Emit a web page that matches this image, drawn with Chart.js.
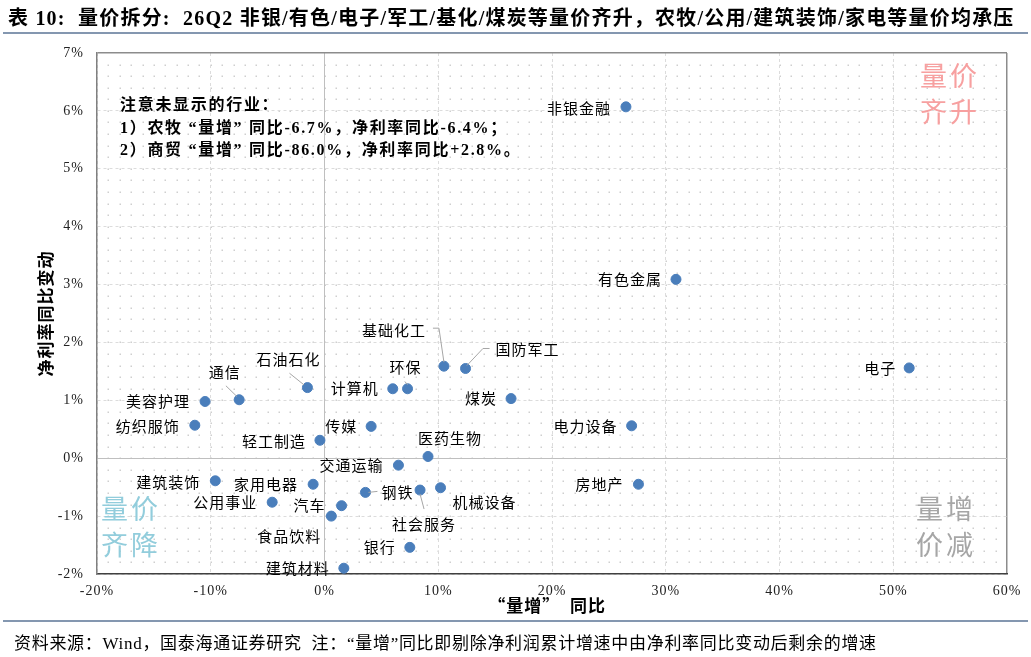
<!DOCTYPE html>
<html>
<head>
<meta charset="utf-8">
<script src="https://cdn.jsdelivr.net/npm/chart.js@4.4.1/dist/chart.umd.min.js"></script>
<style>
  body { margin: 0; background: #fff; }
  #wrap { position: relative; width: 1031px; height: 657px; overflow: hidden; font-family: "Noto Sans CJK SC", sans-serif; }
  #chart { position: absolute; left: 0; top: 0; }
  .title { position: absolute; left: 8px; top: 2px; font-size: 20px; letter-spacing: 1.2px; font-weight: bold; white-space: nowrap; font-family: "Liberation Serif", "Noto Sans CJK SC", serif; }
  .rule { position: absolute; left: 3px; width: 1025px; height: 2px; background: #8497b0; }
  .source { position: absolute; left: 14px; top: 629px; font-size: 17px; letter-spacing: 0.7px; white-space: nowrap; font-family: "Liberation Serif", "Noto Sans CJK SC", serif; }
  .note { position: absolute; left: 120px; top: 94px; font-size: 16px; line-height: 22.5px; letter-spacing: 1.7px; font-weight: bold; white-space: nowrap; font-family: "Liberation Serif", "Noto Sans CJK SC", serif; }
  .corner { position: absolute; font-size: 27px; line-height: 36px; letter-spacing: 3px; white-space: nowrap; }
</style>
</head>
<body>
<div id="wrap">
  <canvas id="chart" width="1031" height="657"></canvas>
  <div class="title">表 10:&nbsp; 量价拆分:&nbsp; 26Q2 非银/有色/电子/军工/基化/煤炭等量价齐升，农牧/公用/建筑装饰/家电等量价均承压</div>
  <div class="rule" style="top:32px"></div>
  <div class="note">注意未显示的行业：<br>1）农牧&nbsp;“量增”&nbsp;同比-6.7%，净利率同比-6.4%；<br>2）商贸&nbsp;“量增”&nbsp;同比-86.0%，净利率同比+2.8%。</div>
  <div class="corner" style="left:920px;top:57px;color:#f7a0a0">量价<br>齐升</div>
  <div class="corner" style="left:101px;top:490px;color:#92cddc">量价<br>齐降</div>
  <div class="corner" style="left:916px;top:490px;color:#a6a6a6">量增<br>价减</div>
  <div class="rule" style="top:620px"></div>
  <div class="source">资料来源：Wind，国泰海通证券研究&nbsp; 注：“量增”同比即剔除净利润累计增速中由净利率同比变动后剩余的增速</div>
</div>
<script>
// 行业名称
const industries = ["非银金融", "有色金属", "电子", "电力设备", "房地产", "煤炭", "国防军工", "基础化工",
  "环保", "计算机", "传媒", "医药生物", "交通运输", "钢铁", "社会服务", "机械设备", "汽车", "食品饮料",
  "银行", "建筑材料", "轻工制造", "石油石化", "通信", "美容护理", "纺织服饰", "建筑装饰", "家用电器", "公用事业"];
// "量增"同比 (%)
const volumeGrowth = [26.5, 30.9, 51.4, 27.0, 27.6, 16.4, 12.4, 10.5,
  7.3, 6.0, 4.1, 9.1, 6.5, 3.6, 8.4, 10.2, 1.5, 0.6,
  7.5, 1.7, -0.4, -1.5, -7.5, -10.5, -11.4, -9.6, -1.0, -4.6];
// 净利率同比变动 (%)
const marginChange = [6.07, 3.09, 1.56, 0.56, -0.45, 1.03, 1.55, 1.59,
  1.20, 1.20, 0.55, 0.03, -0.12, -0.59, -0.55, -0.51, -0.82, -1.00,
  -1.54, -1.90, 0.31, 1.22, 1.01, 0.98, 0.57, -0.39, -0.45, -0.76];
const xTicks = [-20, -10, 0, 10, 20, 30, 40, 50, 60];
const yTicks = [-2, -1, 0, 1, 2, 3, 4, 5, 6, 7];

// 标签位置 (相对数据点的像素偏移)
const labelPos = {
  "非银金融": { dx: -15, dy: 1, align: "right" },
  "有色金属": { dx: -14, dy: 0, align: "right" },
  "电子": { dx: -13, dy: 0, align: "right" },
  "电力设备": { dx: -14, dy: 0, align: "right" },
  "房地产": { dx: -15, dy: 0, align: "right" },
  "煤炭": { dx: -14, dy: 0, align: "right" },
  "国防军工": { dx: 30, dy: -19, align: "left", leader: [[1.4, -3], [17.4, -20], [24, -20]] },
  "基础化工": { dx: -18, dy: -36, align: "right", leader: [[-11, -38], [-5, -38], [0, -4]] },
  "环保": { dx: -2, dy: -21, align: "center", leader: [[-2.7, -7.3], [0, -4]] },
  "计算机": { dx: -14, dy: 0, align: "right" },
  "传媒": { dx: -14, dy: 0, align: "right" },
  "医药生物": { dx: -10, dy: -18, align: "left" },
  "交通运输": { dx: -15, dy: 0, align: "right" },
  "钢铁": { dx: 16, dy: 0, align: "left", leader: [[3, 0], [12, -1]] },
  "社会服务": { dx: 4, dy: 34, align: "center", leader: [[0, 4], [4, 19]] },
  "机械设备": { dx: 12, dy: 15, align: "left" },
  "汽车": { dx: -16, dy: 0, align: "right" },
  "食品饮料": { dx: -10, dy: 20, align: "right" },
  "银行": { dx: -14, dy: 0, align: "right" },
  "建筑材料": { dx: -14, dy: 0, align: "right" },
  "轻工制造": { dx: -14, dy: 1, align: "right" },
  "石油石化": { dx: -19, dy: -28, align: "center", leader: [[-18, -14.4], [-3.4, -2.7]] },
  "通信": { dx: -14.5, dy: -27, align: "center", leader: [[-13.3, -14], [-2.3, -3.3]] },
  "美容护理": { dx: -15, dy: 0, align: "right" },
  "纺织服饰": { dx: -15, dy: 1, align: "right" },
  "建筑装饰": { dx: -15, dy: 1, align: "right" },
  "家用电器": { dx: -15, dy: 0, align: "right" },
  "公用事业": { dx: -15, dy: 0, align: "right" }
};

const points = industries.map((n, i) => ({ x: volumeGrowth[i], y: marginChange[i] }));

// 背景点阵 + 字距
const dotGrid = {
  id: "dotGrid",
  beforeDraw(chart) {
    const { ctx, chartArea: a, scales } = chart;
    ctx.letterSpacing = "1px";
    ctx.save();
    ctx.fillStyle = "#cfcfcf";
    for (let xv = -20; xv <= 60; xv += 1) {
      const px = scales.x.getPixelForValue(xv);
      for (let k = -10; k <= 35; k++) {
        const py = scales.y.getPixelForValue(k * 0.2);
        if (px > a.left + 1 && px < a.right - 1 && py > a.top + 1 && py < a.bottom - 1) {
          ctx.fillRect(Math.round(px) - 0.5, Math.round(py) - 0.5, 1.5, 1.5);
        }
      }
    }
    ctx.restore();
  }
};

const pointLabels = {
  id: "pointLabels",
  afterDatasetsDraw(chart) {
    const ctx = chart.ctx;
    const meta = chart.getDatasetMeta(0);
    ctx.save();
    ctx.font = '15px "Noto Sans CJK SC"';
    ctx.fillStyle = "#000";
    ctx.textBaseline = "middle";
    ctx.letterSpacing = "1px";
    meta.data.forEach((el, i) => {
      const o = labelPos[industries[i]];
      if (!o) return;
      if (o.leader) {
        ctx.strokeStyle = "#a6a6a6";
        ctx.lineWidth = 1;
        ctx.beginPath();
        o.leader.forEach((q, j) => {
          const fn = j === 0 ? "moveTo" : "lineTo";
          ctx[fn](el.x + q[0], el.y + q[1]);
        });
        ctx.stroke();
      }
      ctx.textAlign = o.align;
      ctx.fillText(industries[i], el.x + o.dx, el.y + o.dy);
    });
    ctx.restore();
  }
};

const tickFont = { family: '"Liberation Serif", serif', size: 14 };
const titleFont = { family: '"Noto Sans CJK SC"', size: 17, weight: "bold" };

new Chart(document.getElementById("chart"), {
  type: "scatter",
  data: {
    datasets: [{
      data: points,
      backgroundColor: "#4a7ebb",
      borderColor: "#4a7ebb",
      pointRadius: 5,
      pointHoverRadius: 5
    }]
  },
  options: {
    responsive: false,
    animation: false,
    layout: { padding: { left: 0, top: 53, right: 24, bottom: 37 } },
    plugins: { legend: { display: false }, tooltip: { enabled: false } },
    scales: {
      x: {
        type: "linear",
        min: -20, max: 60,
        afterBuildTicks: s => { s.ticks = xTicks.map(v => ({ value: v })); },
        afterFit: s => { s.height = 46; },
        ticks: { font: tickFont, color: "#222", padding: 9, callback: v => v + "%" },
        grid: {
          drawTicks: false,
          color: c => (c.tick && c.tick.value === 0) ? "#bfbfbf" : (c.tick && c.tick.value === 60 ? "#8c8c8c" : "#dcdcdc"),
          lineWidth: c => (c.tick && c.tick.value === 60) ? 1.5 : 1
        },
        border: {
          color: "#404040", width: 1.5,
          dash: c => (c.tick && c.tick.value !== 0 && c.tick.value !== 60) ? [3, 3] : []
        },
        title: { display: true, text: "“量增”  同比  ", font: titleFont, color: "#000", padding: { top: 0, bottom: 4 } }
      },
      y: {
        type: "linear",
        min: -2, max: 7,
        afterBuildTicks: s => { s.ticks = yTicks.map(v => ({ value: v })); },
        afterFit: s => { s.width = 97; },
        ticks: { font: tickFont, color: "#222", padding: 13, callback: v => v + "%" },
        grid: {
          drawTicks: false,
          color: c => (c.tick && c.tick.value === 0) ? "#bfbfbf" : (c.tick && c.tick.value === 7 ? "#8c8c8c" : "#dcdcdc"),
          lineWidth: c => (c.tick && c.tick.value === 7) ? 1.5 : 1
        },
        border: {
          color: "#808080", width: 1.5,
          dash: c => (c.tick && c.tick.value !== 0 && c.tick.value !== 7) ? [3, 3] : []
        },
        title: { display: true, text: "净利率同比变动", font: titleFont, color: "#000", padding: { top: 35, bottom: 0 } }
      }
    }
  },
  plugins: [dotGrid, pointLabels]
});
</script>
</body>
</html>
